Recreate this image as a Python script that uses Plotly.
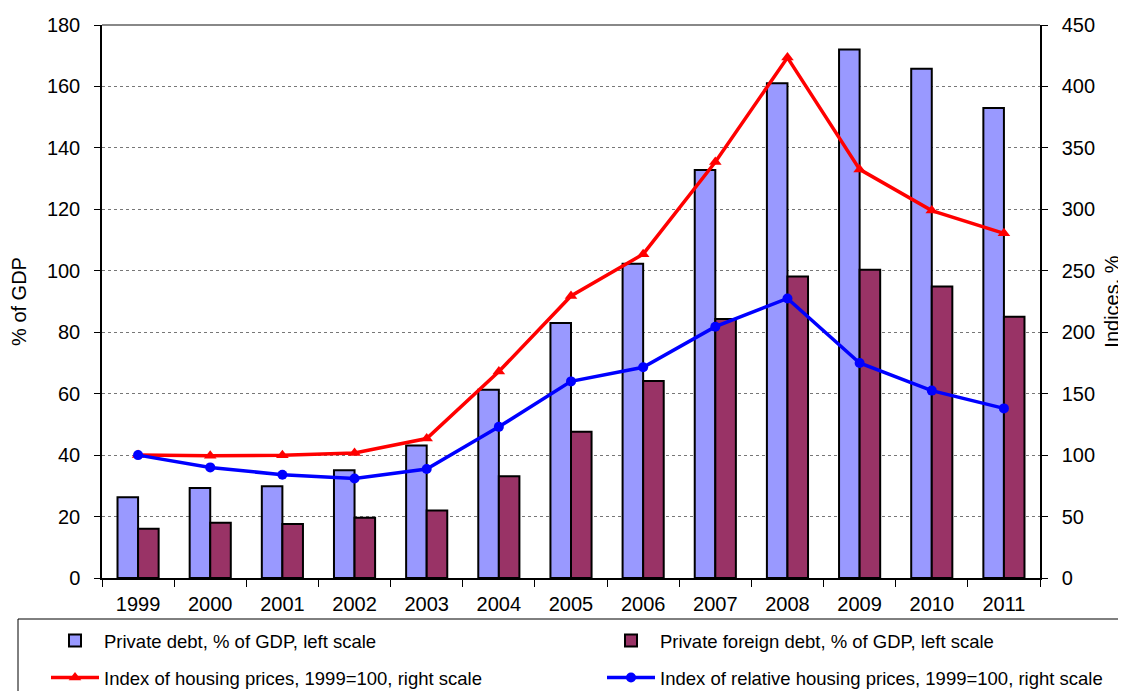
import plotly.graph_objects as go

years = ["1999", "2000", "2001", "2002", "2003", "2004", "2005", "2006",
         "2007", "2008", "2009", "2010", "2011"]
private_debt = [26.3, 29.3, 29.9, 35.1, 43.1, 61.3, 83.0, 102.3, 132.8, 161.0, 172.0, 165.8, 153.0]
private_foreign_debt = [16.0, 18.0, 17.6, 19.6, 22.0, 33.1, 47.6, 64.1, 84.3, 98.1, 100.3, 94.9, 85.0]
housing_index = [100.0, 99.4, 99.8, 101.8, 113.5, 168.0, 229.5, 263.5, 338.5, 423.5, 332.5, 299.0, 280.5]
relative_housing_index = [100.0, 90.0, 84.0, 81.0, 88.7, 123.0, 160.0, 171.5, 204.5, 227.5, 175.0, 152.5, 138.0]

FONT = "Liberation Sans, Arial, sans-serif"

fig = go.Figure()
fig.add_trace(go.Bar(
    x=years, y=private_debt, name="Private debt, % of GDP, left scale",
    marker=dict(color="#9999FF", line=dict(color="black", width=2)),
    legend="legend", yaxis="y"))
fig.add_trace(go.Bar(
    x=years, y=private_foreign_debt, name="Private foreign debt, % of GDP, left scale",
    marker=dict(color="#993366", line=dict(color="black", width=2)),
    legend="legend2", yaxis="y"))
fig.add_trace(go.Scatter(
    x=years, y=housing_index, name="Index of housing prices, 1999=100, right scale",
    mode="lines+markers", line=dict(color="#FF0000", width=3.5),
    marker=dict(symbol="triangle-up", size=11, color="#FF0000"),
    yaxis="y2", legend="legend3"))
fig.add_trace(go.Scatter(
    x=years, y=relative_housing_index, name="Index of relative housing prices, 1999=100, right scale",
    mode="lines+markers", line=dict(color="#0000FF", width=3.5),
    marker=dict(symbol="circle", size=10, color="#0000FF"),
    yaxis="y2", legend="legend4"))

# The page body adds an 8 px offset.
OFF = 8
W, H = 1126, 691 - OFF
L, T = 102 - OFF, 25 - OFF
pw, ph = 1040 - 102, 578 - 25
R, B = W - L - pw, H - T - ph

def px_x(p):
    return (p - OFF - L) / pw

def px_y(p):
    return (H - B - (p - OFF)) / ph

def legend_at(x_px, y_px):
    return dict(
        orientation="h", xref="container", yref="container",
        x=(x_px - OFF) / W, y=1 - (y_px - OFF) / H,
        xanchor="left", yanchor="middle", itemwidth=48,
        font=dict(size=18.5), bgcolor="rgba(0,0,0,0)")

fig.update_layout(
    width=W, height=H,
    margin=dict(l=L, r=R, t=T, b=B, autoexpand=False),
    paper_bgcolor="white", plot_bgcolor="white",
    font=dict(family=FONT, color="black", size=20),
    barmode="group", bargap=0.43, bargroupgap=0.0,
    showlegend=True,
    xaxis=dict(
        type="category", range=[-0.5, len(years) - 0.5], autorange=False,
        showline=True, linecolor="black", linewidth=1.5,
        ticks="outside", tickson="boundaries", ticklen=7, tickcolor="black",
        tickfont=dict(size=20), ticklabelstandoff=7,
        showgrid=False, automargin=False),
    yaxis=dict(
        range=[0, 180], dtick=20, showline=True, linecolor="black", linewidth=1.5,
        ticks="outside", ticklen=6, tickcolor="black", tickfont=dict(size=20),
        ticklabelstandoff=10,
        showgrid=True, gridcolor="#777777", griddash="dot", gridwidth=1,
        zeroline=False, automargin=False,
        title=dict(text="% of GDP", font=dict(size=20), standoff=18)),
    yaxis2=dict(
        range=[0, 450], dtick=50, overlaying="y", side="right",
        showline=True, linecolor="black", linewidth=1.5,
        ticks="outside", ticklen=6, tickcolor="black", tickfont=dict(size=20),
        ticklabelstandoff=10,
        showgrid=False, zeroline=False, automargin=False,
        title=dict(text="Indices, %", font=dict(size=20), standoff=11)),
    legend=legend_at(46, 641),
    legend2=legend_at(602, 641),
    legend3=legend_at(46, 678),
    legend4=legend_at(602, 678),
    shapes=[
        dict(type="line", xref="paper", yref="paper", x0=0, x1=1, y0=1, y1=1,
             line=dict(color="#888888", width=2)),
        dict(type="rect", xref="paper", yref="paper",
             x0=px_x(18), x1=px_x(1140), y0=px_y(619), y1=px_y(710),
             line=dict(color="black", width=1), fillcolor="rgba(0,0,0,0)"),
    ],
)

fig.write_html("out.html")
